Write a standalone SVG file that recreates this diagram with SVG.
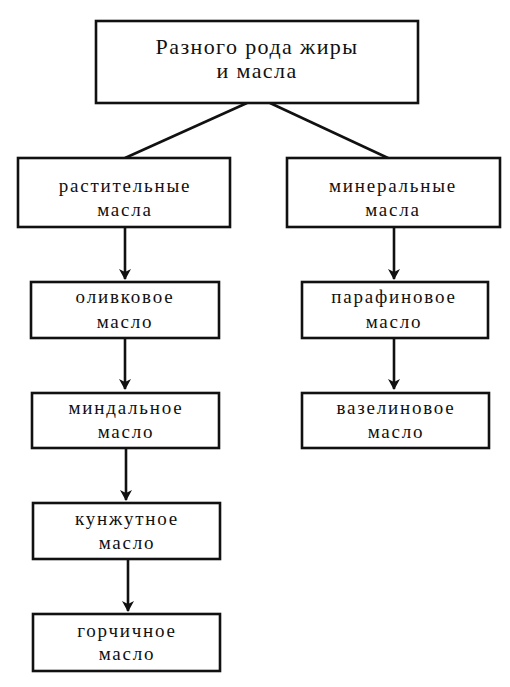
<svg xmlns="http://www.w3.org/2000/svg" width="510" height="687" viewBox="0 0 510 687">
<style>
.box{fill:#fff;stroke:#111;stroke-width:2.6}
.t{font-size:19px;fill:#111;text-anchor:middle;letter-spacing:1.8px}
.tt{font-size:22px;letter-spacing:1.4px}
.c{stroke:#111;stroke-width:2.6;fill:none}
</style>
<defs>
<marker id="ah" markerWidth="12" markerHeight="12" refX="10" refY="6" orient="auto" markerUnits="userSpaceOnUse">
<path d="M0,0 L11,6 L0,12 L3,6 Z" fill="#111"/>
</marker>
</defs>
<rect width="510" height="687" fill="#fff"/>
<g id="connectors">
<line class="c" x1="247" y1="103" x2="125" y2="158"/>
<line class="c" x1="270" y1="103" x2="388" y2="158"/>
<line class="c" x1="125" y1="227" x2="125" y2="279" marker-end="url(#ah)"/>
<line class="c" x1="394" y1="227" x2="394" y2="279" marker-end="url(#ah)"/>
<line class="c" x1="125" y1="338" x2="125" y2="389" marker-end="url(#ah)"/>
<line class="c" x1="394" y1="338" x2="394" y2="389" marker-end="url(#ah)"/>
<line class="c" x1="126" y1="448" x2="126" y2="500" marker-end="url(#ah)"/>
<line class="c" x1="128" y1="559" x2="128" y2="611" marker-end="url(#ah)"/>
</g>
<g font-family="'Liberation Serif', 'DejaVu Serif', serif">
<g id="root">
<rect class="box" x="96" y="21" width="322" height="82"/>
<text class="t tt" x="257" y="54">Разного рода жиры</text>
<text class="t tt" x="257" y="78">и масла</text>
</g>
<g id="plant">
<rect class="box" x="18" y="158" width="212" height="69"/>
<text class="t" x="125" y="192">растительные</text>
<text class="t" x="125" y="216">масла</text>
</g>
<g id="mineral">
<rect class="box" x="287" y="158" width="213" height="69"/>
<text class="t" x="393" y="192">минеральные</text>
<text class="t" x="393" y="216">масла</text>
</g>
<g id="olive">
<rect class="box" x="31" y="282" width="188" height="56"/>
<text class="t" x="125" y="303">оливковое</text>
<text class="t" x="125" y="328">масло</text>
</g>
<g id="paraffin">
<rect class="box" x="302" y="282" width="186" height="56"/>
<text class="t" x="394" y="303">парафиновое</text>
<text class="t" x="394" y="328">масло</text>
</g>
<g id="almond">
<rect class="box" x="32" y="393" width="187" height="55"/>
<text class="t" x="126" y="414">миндальное</text>
<text class="t" x="126" y="438">масло</text>
</g>
<g id="vaseline">
<rect class="box" x="302" y="393" width="187" height="55"/>
<text class="t" x="396" y="414">вазелиновое</text>
<text class="t" x="396" y="438">масло</text>
</g>
<g id="sesame">
<rect class="box" x="33" y="503" width="187" height="56"/>
<text class="t" x="127" y="525">кунжутное</text>
<text class="t" x="127" y="549">масло</text>
</g>
<g id="mustard">
<rect class="box" x="33" y="614" width="187" height="57"/>
<text class="t" x="127" y="637">горчичное</text>
<text class="t" x="127" y="660">масло</text>
</g>
</g>
</svg>
